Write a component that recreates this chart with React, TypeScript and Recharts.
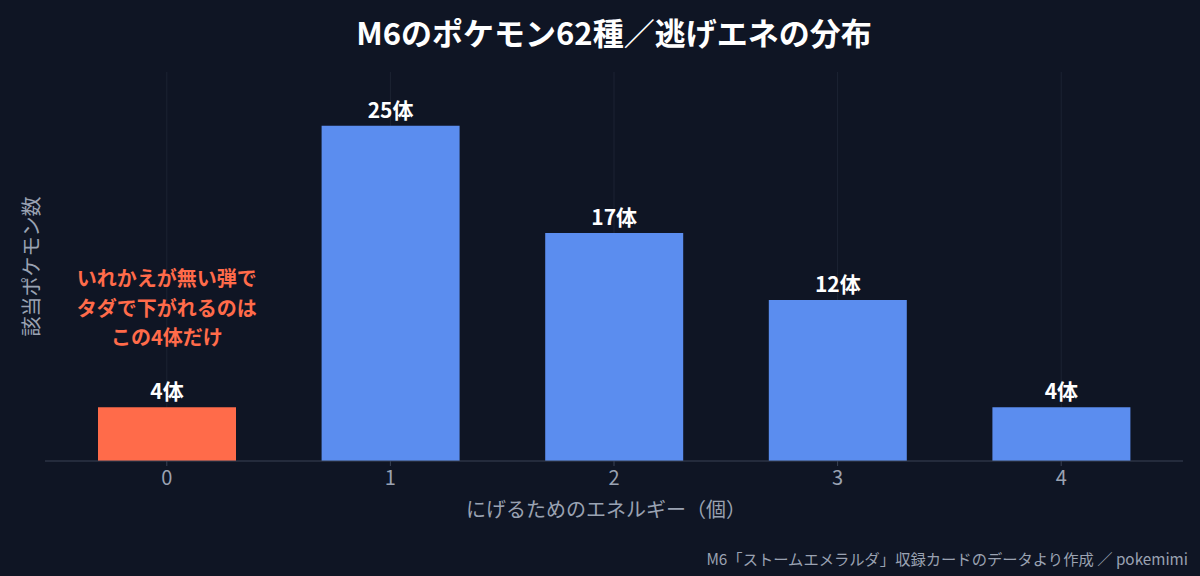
import React from "react";
import {
  BarChart,
  Bar,
  XAxis,
  YAxis,
  CartesianGrid,
  Cell,
  LabelList,
  ReferenceDot,
} from "recharts";

const energies = ["0", "1", "2", "3", "4"];
const counts = [4, 25, 17, 12, 4];
const noteLines = ["いれかえが無い弾で", "タダで下がれるのは", "この4体だけ"];

const data = energies.map((e, i) => ({ energy: e, count: counts[i] }));

const BG = "#0f1524";
const BLUE = "#5b8def";
const ORANGE = "#ff6b4a";
const GRAY = "#9aa2b2";
const FONT = "'Noto Sans CJK JP', 'Noto Sans', sans-serif";
const X_PAD = 10;

function NoteLabel(props: any) {
  const { viewBox } = props;
  const cx = viewBox.x;
  const cy = viewBox.y;
  return (
    <text
      x={cx}
      y={cy}
      textAnchor="middle"
      fill={ORANGE}
      fontSize={20}
      fontWeight={700}
      fontFamily={FONT}
    >
      {noteLines.map((line, i) => (
        <tspan key={i} x={cx} y={cy + (i - 1) * 29.5} dy="0.35em">
          {line}
        </tspan>
      ))}
    </text>
  );
}

// grid lines only at the category centres
function gridAtTicks({ offset }: any) {
  const bw = (offset.width - 2 * X_PAD) / energies.length;
  return energies.map((_, i) => offset.left + X_PAD + bw * (i + 0.5));
}

export default function App() {
  return (
    <div
      style={{
        position: "absolute",
        left: 0,
        top: 0,
        width: 1200,
        height: 576,
        background: BG,
        fontFamily: FONT,
      }}
    >
      <div
        style={{
          position: "absolute",
          top: 12,
          left: 0,
          width: 1228,
          textAlign: "center",
          color: "#ffffff",
          fontSize: 31,
          fontWeight: 700,
          lineHeight: "40px",
        }}
      >
        M6のポケモン62種／逃げエネの分布
      </div>
      <BarChart
        width={1200}
        height={576}
        data={data}
        margin={{ top: 72, right: 17, bottom: 85, left: 0 }}
      >
        <CartesianGrid
          horizontal={false}
          stroke="#1c2333"
          strokeWidth={1}
          verticalCoordinatesGenerator={gridAtTicks}
        />
        <XAxis
          dataKey="energy"
          padding={{ left: X_PAD, right: X_PAD }}
          height={30}
          stroke="#3a4254"
          tickSize={5}
          tickMargin={5}
          tick={{ fill: GRAY, fontSize: 20, fontFamily: FONT }}
          label={(p: any) => (
            <text
              x={p.viewBox.x + p.viewBox.width / 2 - 8}
              y={p.viewBox.y + 47}
              textAnchor="middle"
              dominantBaseline="central"
              fill={GRAY}
              fontSize={20}
              fontFamily={FONT}
            >
              にげるためのエネルギー（個）
            </text>
          )}
        />
        <YAxis
          width={45}
          domain={[0, 29]}
          allowDataOverflow
          tick={false}
          axisLine={false}
          tickLine={false}
          label={(p: any) => {
            const x = p.viewBox.x + 30;
            const y = p.viewBox.y + p.viewBox.height / 2;
            return (
              <text
                x={x}
                y={y}
                transform={`rotate(-90 ${x} ${y})`}
                textAnchor="middle"
                dominantBaseline="central"
                fill={GRAY}
                fontSize={20}
                fontFamily={FONT}
              >
                該当ポケモン数
              </text>
            );
          }}
        />
        <Bar dataKey="count" barSize={138} isAnimationActive={false}>
          {data.map((d, i) => (
            <Cell key={d.energy} fill={i === 0 ? ORANGE : BLUE} />
          ))}
          <LabelList
            dataKey="count"
            position="top"
            offset={8}
            formatter={(v: any) => `${v}体`}
            fill="#ffffff"
            fontSize={21}
            fontWeight={700}
            fontFamily={FONT}
          />
        </Bar>
        <ReferenceDot
          x="0"
          y={11.35}
          r={0}
          ifOverflow="visible"
          label={<NoteLabel />}
        />
      </BarChart>
      <div
        style={{
          position: "absolute",
          right: 12,
          top: 548,
          color: GRAY,
          fontSize: 15.3,
          lineHeight: "20px",
          whiteSpace: "nowrap",
        }}
      >
        M6「ストームエメラルダ」収録カードのデータより作成 ／ pokemimi
      </div>
    </div>
  );
}
